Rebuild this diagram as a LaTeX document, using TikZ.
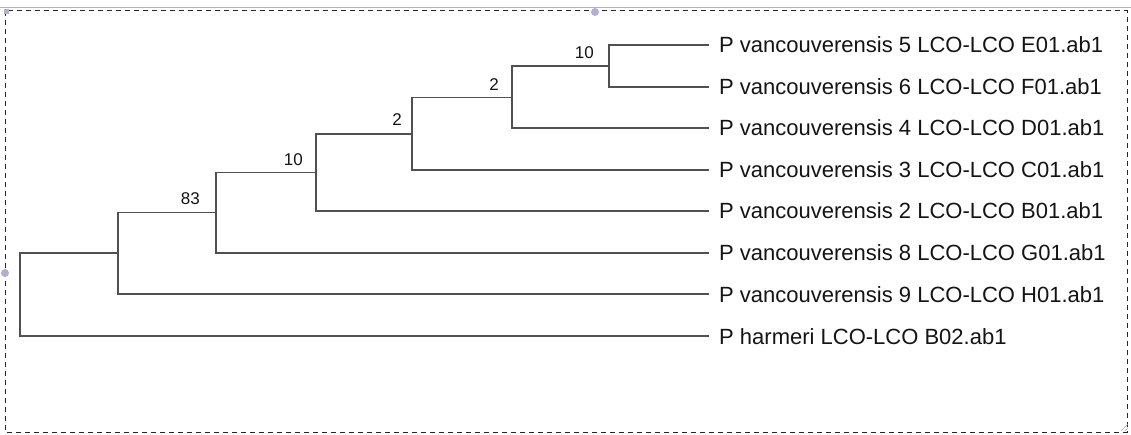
\documentclass[tikz,border=0pt]{standalone}
\usepackage{fontspec}
\setmainfont{Liberation Sans}
\definecolor{branch}{RGB}{80,80,80}
\definecolor{txt}{RGB}{20,20,20}
\definecolor{handle}{RGB}{176,176,210}
\begin{document}
\begin{tikzpicture}[x=1pt,y=-1pt,
  br/.style={draw=branch,line width=1.9pt,line cap=rect},
  leaflabel/.style={anchor=base west,inner sep=0pt,text=txt,font=\fontsize{22}{24}\selectfont},
  boot/.style={anchor=base east,inner sep=0pt,text=txt,font=\fontsize{17}{19}\selectfont},
  frame/.style={draw=black!85,line width=1pt,dash pattern=on 5pt off 4pt}]
\useasboundingbox (0,0) rectangle (1131,435);
% frame
\draw[gray!60,line width=1pt] (0,8) -- (1131,8);
\draw[frame] (5,11) rectangle (1127,432);
\fill[handle] (595,12) circle (4);
\fill[handle] (5,273) circle (4);
\fill[handle] (4,9) rectangle (9,14);
\draw[gray!70,line width=0.6pt] (1121,431) -- (1128,424) (1125,431) -- (1128,428);
% leaves
\coordinate (lE) at (708,45);
\coordinate (lF) at (708,87);
\coordinate (lD) at (708,128);
\coordinate (lC) at (708,170);
\coordinate (lB) at (708,211);
\coordinate (lG) at (708,253);
\coordinate (lH) at (708,294);
\coordinate (lR) at (708,336);
% internal nodes
\coordinate (n1) at (609,66);
\coordinate (n2) at (512,97.5);
\coordinate (n3) at (412,134);
\coordinate (n4) at (316,172.5);
\coordinate (n5) at (216,212.5);
\coordinate (n6) at (118,253);
\coordinate (rt) at (20,294.5);
% branches
\draw[br] (lE) -| (n1) |- (lF);
\draw[br] (n1) -| (n2) |- (lD);
\draw[br] (n2) -| (n3) |- (lC);
\draw[br] (n3) -| (n4) |- (lB);
\draw[br] (n4) -| (n5) |- (lG);
\draw[br] (n5) -| (n6) |- (lH);
\draw[br] (n6) -| (rt) |- (lR);
% leaf labels
\node[leaflabel] (tE) at (719,53) {P vancouverensis 5 LCO-LCO E01.ab1};
\node[leaflabel] (tF) at (719,95) {P vancouverensis 6 LCO-LCO F01.ab1};
\node[leaflabel] (tD) at (719,136) {P vancouverensis 4 LCO-LCO D01.ab1};
\node[leaflabel] (tC) at (719,178) {P vancouverensis 3 LCO-LCO C01.ab1};
\node[leaflabel] (tB) at (719,219) {P vancouverensis 2 LCO-LCO B01.ab1};
\node[leaflabel] (tG) at (719,261) {P vancouverensis 8 LCO-LCO G01.ab1};
\node[leaflabel] (tH) at (719,302) {P vancouverensis 9 LCO-LCO H01.ab1};
\node[leaflabel] (tR) at (719,344) {P harmeri LCO-LCO B02.ab1};
% support values
\node[boot] (b1) at (594,59) {10};
\node[boot] (b2) at (499,91) {2};
\node[boot] (b3) at (402,126) {2};
\node[boot] (b4) at (303,165.5) {10};
\node[boot] (b5) at (200,205) {83};
\end{tikzpicture}
\end{document}
